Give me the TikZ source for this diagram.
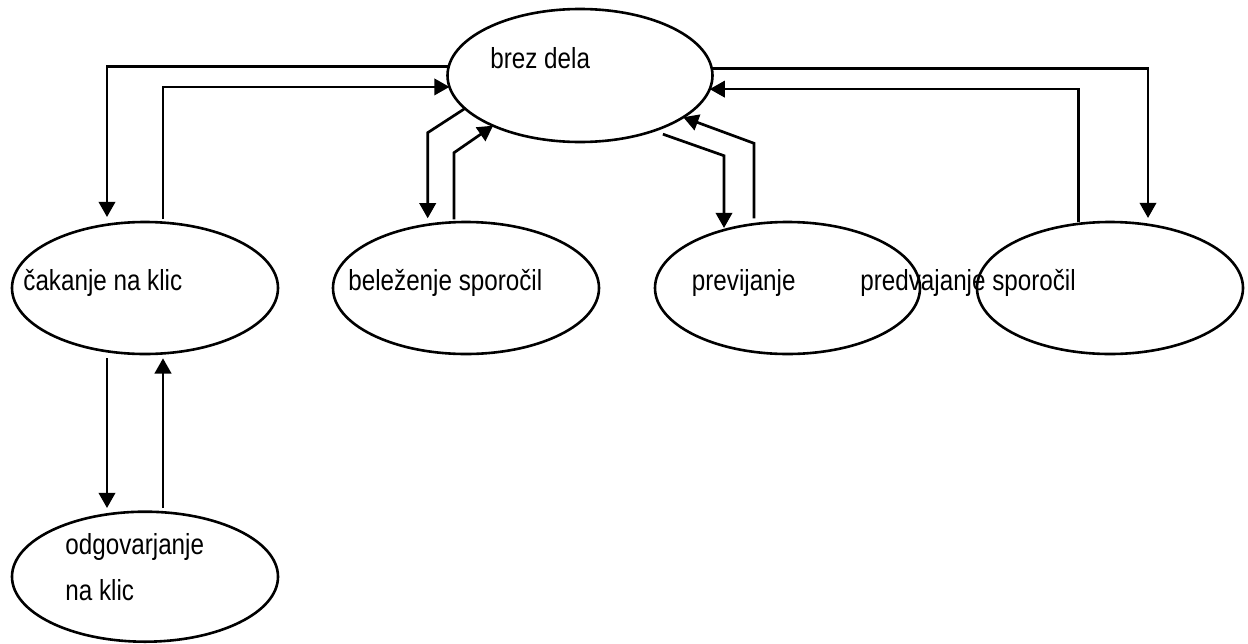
\documentclass[tikz,border=0pt]{standalone}
\usepackage{fontspec}
\setmainfont{Liberation Sans}[FakeStretch=0.835]
\usetikzlibrary{shapes.geometric,arrows.meta}
\begin{document}
\begin{tikzpicture}[x=0.5pt,y=-0.5pt,
  st/.style={draw, ellipse, line width=1.3pt, inner sep=0pt, outer sep=0pt,
             minimum width=133pt, minimum height=66pt},
  lbl/.style={anchor=base west, inner sep=0pt, font=\fontsize{14.5pt}{17pt}\selectfont},
  arr/.style={line width=1.35pt, -{Triangle[length=7.6pt,width=8.2pt]}}]
\useasboundingbox (0,0) rectangle (1248,643);
% states
\node[st, minimum width=132.5pt, minimum height=66.5pt] (brez) at (580,75.5) {};
\node[st] (cak)  at (145,288) {};
\node[st] (bel)  at (466,288) {};
\node[st, minimum width=132.5pt] (prev) at (787.5,288) {};
\node[st] (pred) at (1110,288) {};
\node[st, minimum height=65pt] (odg) at (145,576.7) {};
% labels
\node[lbl] (tbrez) at (490,68) {brez dela};
\node[lbl] (tcak)  at (23,290) {čakanje na klic};
\node[lbl] (tbel)  at (348,290) {beleženje sporočil};
\node[lbl] (tprev) at (691.5,290) {previjanje};
\node[lbl] (tpred) at (860,290) {predvajanje sporočil};
\node[lbl] (todg1) at (65,554) {odgovarjanje};
\node[lbl] (todg2) at (65,600) {na klic};
% bend points
\coordinate (b1) at (427.7,132.7);
\coordinate (b2) at (454,152.7);
\coordinate (p1) at (724,155.7);
\coordinate (p2) at (754,143.3);
% connectors
\draw[arr] (brez.176) -| ([xshift=-19pt,yshift=2.5pt]cak.north);
\draw[arr] ([xshift=9pt,yshift=1.5pt]cak.north) |- (brez.185);
\draw[arr] (brez.3) -| ([xshift=19pt,yshift=2pt]pred.north);
\draw[arr] ([xshift=-15.7pt]pred.north) |- (brez.354);
\draw[arr] (brez.196) -- (b1) -- ([xshift=-19.15pt,yshift=1.85pt]bel.north);
\draw[arr] ([xshift=-6pt,yshift=1.35pt]bel.north) -- (b2) -- (brez.210);
\draw[arr, shorten <=5pt] (brez.323) -- (p1) -- ([xshift=-31.75pt,yshift=-3pt]prev.north);
\draw[arr] ([xshift=-16.75pt,yshift=1.85pt]prev.north) -- (p2) -- (brez.338);
\draw[arr] ([xshift=-19pt,yshift=-2.15pt]cak.south) -- ([xshift=-19pt,yshift=1.85pt]odg.north);
\draw[arr] ([xshift=9pt,yshift=1.85pt]odg.north) -- ([xshift=9pt,yshift=-2.15pt]cak.south);
\end{tikzpicture}
\end{document}
